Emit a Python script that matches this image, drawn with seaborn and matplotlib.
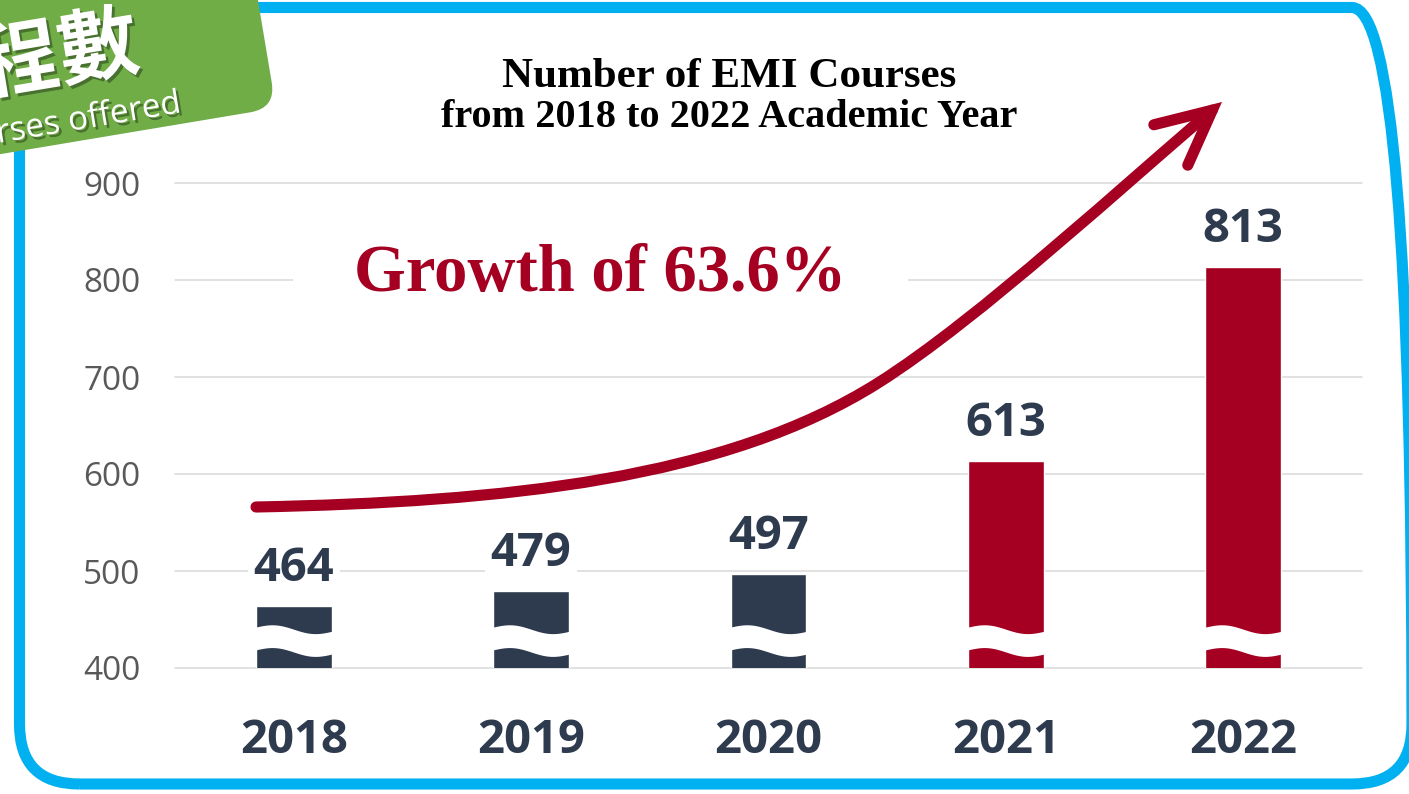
import numpy as np
import pandas as pd
import matplotlib
matplotlib.use("Agg")
import matplotlib.pyplot as plt
import seaborn as sns
from matplotlib.patches import FancyBboxPatch, Rectangle, FancyArrowPatch, ArrowStyle
from matplotlib.path import Path
from matplotlib.transforms import Affine2D
import matplotlib.patheffects as pe

# ---------------- data ----------------
years = ["2018", "2019", "2020", "2021", "2022"]
courses = [464, 479, 497, 613, 813]
bar_colors = ["#2E3B4E", "#2E3B4E", "#2E3B4E", "#A50021", "#A50021"]
y_ticks = [400, 500, 600, 700, 800, 900]
title_line1 = "Number of EMI Courses"
title_line2 = "from 2018 to 2022 Academic Year"
growth_label = "Growth of 63.6%"
tab_title = "課程數"
tab_subtitle = "Courses offered"

DARK = "#2E3B4E"
RED = "#A50021"
BLUE = "#00B0F0"
GREEN = "#70AD47"

sns.set_style("white")
plt.rcParams["font.family"] = ["Open Sans", "DejaVu Sans"]

W, H = 1409, 794
fig = plt.figure(figsize=(W / 100, H / 100), dpi=100)
fig.patch.set_facecolor("white")


def px(x, y):
    """pixel (y down) -> figure inches (y up)"""
    return x / 100.0, (H - y) / 100.0


# ---------------- axes & bars ----------------
ax = fig.add_axes([175 / W, (H - 668) / H, (1362 - 175) / W, (668 - 183) / H])
ax.set_facecolor("none")
df = pd.DataFrame({"year": years, "courses": courses})
sns.barplot(data=df, x="year", y="courses", hue="year", palette=bar_colors,
            width=0.32, saturation=1, legend=False, ax=ax, zorder=2)

ax.set_ylim(400, 900)
ax.set_xlim(-0.5, len(years) - 0.5)
ax.set_yticks(y_ticks)
ax.yaxis.grid(True, color="#D9D9D9", lw=1.1)
ax.xaxis.grid(False)
ax.set_axisbelow(True)
for s in ax.spines.values():
    s.set_visible(False)
ax.set_xlabel("")
ax.set_ylabel("")
ax.tick_params(axis="y", length=0, pad=25, labelsize=24, labelcolor="#595959")
ax.tick_params(axis="x", length=0, pad=35, labelsize=34, labelcolor=DARK)
for t in ax.get_xticklabels():
    t.set_fontweight("bold")
for gl in ax.get_ygridlines():
    gl.set_clip_on(False)

# axis-break waves across each bar
tt = np.linspace(0, 1, 80)
half = 0.163
wave = 3.5 * np.sin(2 * np.pi * tt) + 2.0 * (1 - 2 * tt)
for i in range(len(years)):
    xs = i - half + 2 * half * tt
    ax.fill_between(xs, 416.5 + wave, 440 + wave, color="white", lw=0, zorder=3)

# value labels
for i, v in enumerate(courses):
    ax.annotate(str(v), xy=(i, v), xytext=(0, 18), textcoords="offset points",
                ha="center", va="baseline", fontsize=34, fontweight="bold",
                color=DARK, zorder=4,
                bbox=dict(boxstyle="square,pad=0.12", fc="white", ec="none"))

# ---------------- titles ----------------
fig.text(729.5 / W, 1 - 87 / H, title_line1, ha="center", va="baseline",
         fontsize=31, fontweight="bold", family="Liberation Serif", color="black", zorder=3)
fig.text(729.5 / W, 1 - 127 / H, title_line2, ha="center", va="baseline",
         fontsize=29, fontweight="bold", family="Liberation Serif", color="black", zorder=3)

# growth label with white knock-out behind it
fig.add_artist(Rectangle(px(293, 300), (908 - 293) / 100, 0.5,
                         transform=fig.dpi_scale_trans, fc="white", ec="none", zorder=2))
fig.text(600.5 / W, 1 - 291 / H, growth_label, ha="center", va="baseline",
         fontsize=48, fontweight="bold", family="Liberation Serif", color=RED, zorder=3)

# curved growth arrow
arrow_px = [(256, 507), (506, 502), (725.7, 479), (878, 383),
            (979.5, 319), (1130, 179.2), (1222, 102)]
codes = [Path.MOVETO] + [Path.CURVE4] * 6
arrow = FancyArrowPatch(path=Path([px(*p) for p in arrow_px], codes),
                        arrowstyle=ArrowStyle("->", head_length=39, head_width=19),
                        mutation_scale=1, lw=8, color=RED, capstyle="round",
                        joinstyle="miter", transform=fig.dpi_scale_trans, zorder=3)
fig.add_artist(arrow)

# ---------------- frame ----------------
bx, by = px(19.5, 784)
fig.add_artist(FancyBboxPatch((bx, by), (1412 - 19.5) / 100, (784 - 7.5) / 100,
                              boxstyle="round,pad=0,rounding_size=0.6",
                              transform=fig.dpi_scale_trans, fc="none", ec=BLUE,
                              lw=8, zorder=1))

# green tab
cx, cy = px(276, 108)
tab = FancyBboxPatch((cx - 6, cy), 6, 2.5, boxstyle="round,pad=0,rounding_size=0.26",
                     transform=Affine2D().rotate_deg_around(cx, cy, 9.5) + fig.dpi_scale_trans,
                     fc=GREEN, ec="none", zorder=5)
fig.add_artist(tab)

shadow = [pe.withSimplePatchShadow(offset=(2, -2), shadow_rgbFace="black", alpha=0.35)]
fig.text(142 / W, 1 - 67 / H, tab_title, rotation=9.5, rotation_mode="anchor",
         ha="right", va="baseline", fontsize=58, fontweight="bold", color="white",
         family=["Noto Sans CJK TC", "DejaVu Sans"], zorder=6, path_effects=shadow)
fig.text(183 / W, 1 - 112 / H, tab_subtitle, rotation=9.5, rotation_mode="anchor",
         ha="right", va="baseline", fontsize=24, color="white",
         family=["Open Sans", "DejaVu Sans"], zorder=6, path_effects=shadow)

fig.savefig("out.png", dpi=100)
